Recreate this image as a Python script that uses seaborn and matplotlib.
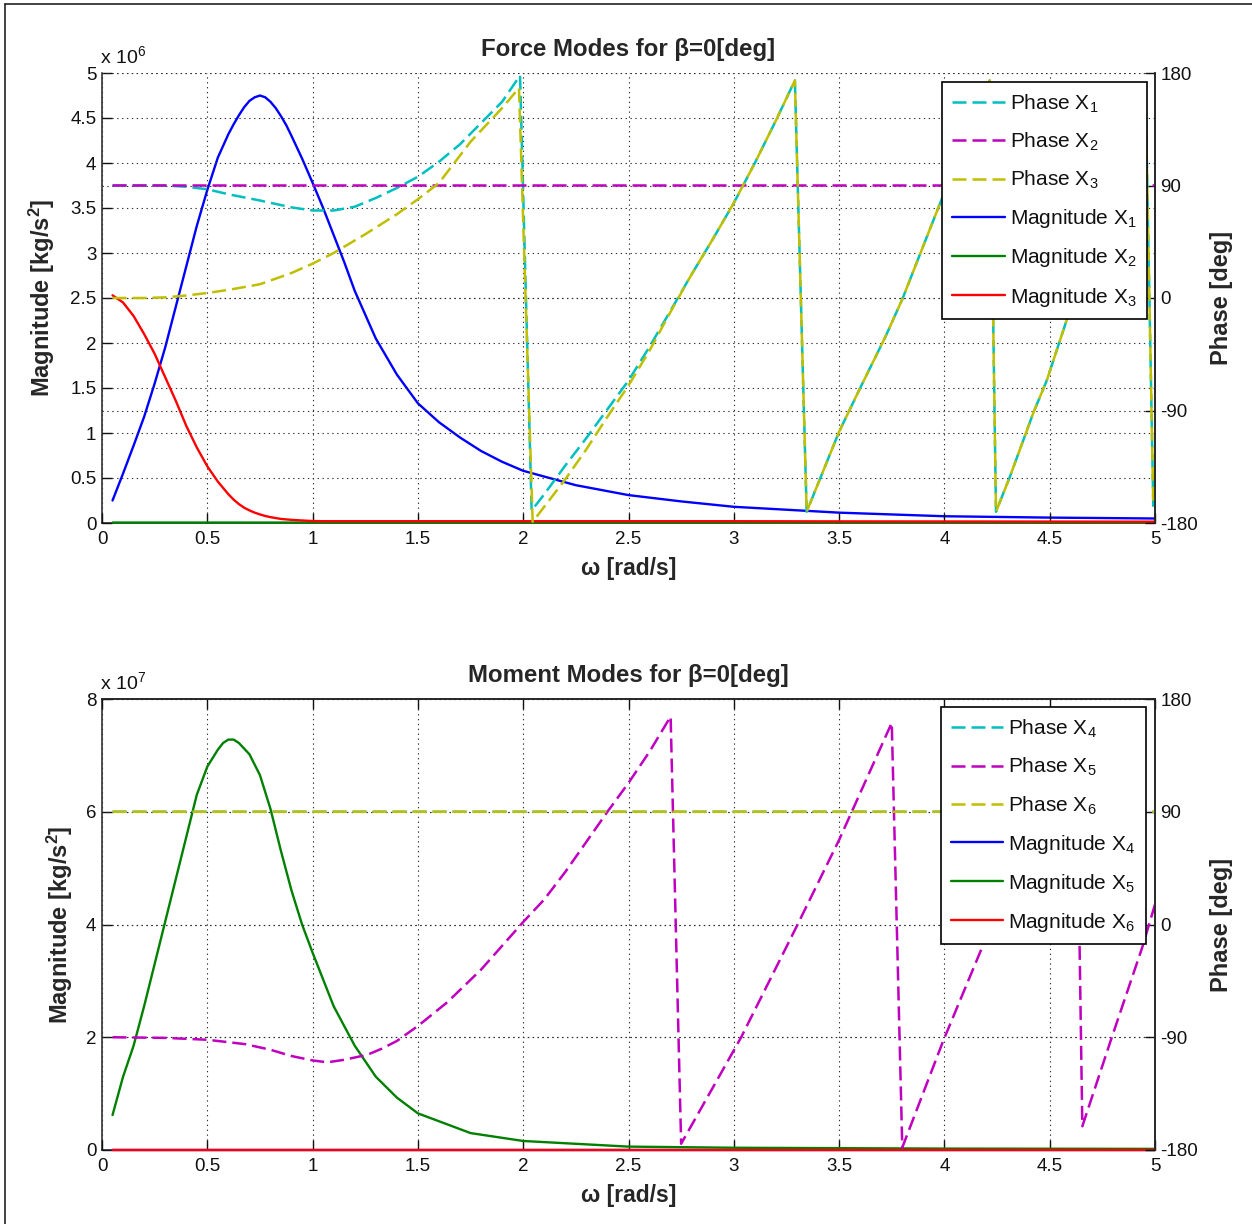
import numpy as np
import pandas as pd
import matplotlib
matplotlib.use("Agg")
import matplotlib.pyplot as plt
from matplotlib.lines import Line2D
from matplotlib.ticker import FixedLocator, FuncFormatter
import seaborn as sns

# ---------------- data ----------------
# Force modes: magnitudes in units of 1e6 kg/s^2
omega_force_mag = [0.05, 0.1, 0.15, 0.2, 0.25, 0.3, 0.35, 0.4, 0.45, 0.5, 0.55, 0.6, 0.625, 0.65,
                   0.675, 0.7, 0.725, 0.75, 0.775, 0.8, 0.825, 0.85, 0.875, 0.9, 0.95, 1.0, 1.05,
                   1.1, 1.15, 1.2, 1.3, 1.4, 1.5, 1.6, 1.7, 1.8, 1.9, 2.0, 2.25, 2.5, 2.75, 3.0,
                   3.5, 4.0, 4.5, 5.0]
force_mag_x1 = [0.25, 0.55, 0.86, 1.18, 1.55, 1.95, 2.4, 2.85, 3.3, 3.7, 4.06, 4.32, 4.43, 4.53,
                4.62, 4.69, 4.73, 4.75, 4.73, 4.68, 4.61, 4.52, 4.42, 4.3, 4.05, 3.78, 3.5,
                3.2, 2.9, 2.58, 2.05, 1.65, 1.33, 1.12, 0.95, 0.8, 0.68, 0.58, 0.42, 0.31, 0.24, 0.18,
                0.115, 0.075, 0.06, 0.05]
force_mag_x3 = [2.53, 2.45, 2.3, 2.1, 1.88, 1.62, 1.36, 1.08, 0.84, 0.63, 0.46, 0.32, 0.26, 0.21,
                0.17, 0.14, 0.115, 0.095, 0.078, 0.065, 0.055, 0.045, 0.04, 0.035, 0.028, 0.022, 0.02,
                0.02, 0.02, 0.02, 0.02, 0.02, 0.02, 0.02, 0.02, 0.02, 0.02, 0.02, 0.02, 0.02, 0.02,
                0.02, 0.018, 0.017, 0.016, 0.015]
omega_force_x2 = [0.05, 5.0]
force_mag_x2 = [0.005, 0.005]

# Force modes: phases in degrees
omega_phase_x1 = [0.05, 0.2, 0.3, 0.4, 0.5, 0.6, 0.75, 0.9, 1.0, 1.1, 1.2, 1.3, 1.4, 1.5, 1.6,
                  1.7, 1.8, 1.9, 1.985, 2.04, 2.1, 2.2, 2.3, 2.4, 2.5, 2.6, 2.7, 2.8, 2.9, 3.0,
                  3.1, 3.2, 3.29, 3.346, 3.5, 3.6, 3.72, 3.8, 3.98, 4.1, 4.215, 4.245, 4.311,
                  4.422, 4.486, 4.58, 4.7, 4.8, 4.9, 4.955, 4.992]
force_phase_x1 = [90, 90, 90, 89, 87, 83, 78, 72.5, 70, 70, 73, 80, 88, 97, 109,
                  123, 140, 157, 178, -170, -157, -134, -112, -89, -66, -39, -10, 19, 47, 76,
                  108, 142, 174, -171, -107, -72, -31, -1, 76, 126, 174, -171, -143,
                  -92, -66, -18, 40, 89, 138, 165, -167]
omega_phase_x3 = [0.05, 0.2, 0.3, 0.4, 0.5, 0.6, 0.75, 0.9, 1.0, 1.1, 1.25, 1.4, 1.5, 1.6,
                  1.75, 1.8, 1.9, 1.98, 2.045, 2.1, 2.2, 2.3, 2.4, 2.5, 2.6, 2.7, 2.8, 2.9, 3.0,
                  3.1, 3.2, 3.29, 3.346, 3.5, 3.6, 3.72, 3.8, 3.98, 4.1, 4.215, 4.245, 4.311,
                  4.422, 4.486, 4.58, 4.7, 4.8, 4.9, 4.955, 4.992]
force_phase_x3 = [0, 0, 0.5, 2, 4, 6.5, 11, 20, 27.5, 36, 51, 67, 79, 92,
                  125, 134, 152, 168, -179, -167, -145, -121, -95, -70, -42, -11, 19, 47, 76,
                  108, 142, 174, -171, -107, -72, -31, -1, 76, 126, 174, -171, -143,
                  -92, -66, -18, 40, 89, 138, 165, -167]
omega_phase_x2 = [0.05, 5.0]
force_phase_x2 = [90, 90]

# Moment modes: magnitudes in units of 1e7 kg/s^2
omega_moment_mag = [0.05, 0.1, 0.15, 0.2, 0.25, 0.3, 0.35, 0.4, 0.45, 0.5, 0.55, 0.575, 0.6, 0.625,
                    0.65, 0.7, 0.75, 0.8, 0.85, 0.9, 0.95, 1.0, 1.1, 1.2, 1.3, 1.4, 1.5, 1.75,
                    2.0, 2.5, 3.0, 4.0, 5.0]
moment_mag_x5 = [0.62, 1.3, 1.85, 2.55, 3.3, 4.05, 4.8, 5.55, 6.3, 6.8, 7.1, 7.22, 7.28, 7.28,
                 7.22, 7.02, 6.65, 6.05, 5.3, 4.6, 4.0, 3.5, 2.55, 1.85, 1.3, 0.93, 0.65, 0.3,
                 0.16, 0.06, 0.04, 0.025, 0.02]
omega_moment_x46 = [0.05, 5.0]
moment_mag_x4 = [0.0, 0.0]
moment_mag_x6 = [0.0, 0.0]

# Moment modes: phases in degrees
omega_phase_x5 = [0.05, 0.3, 0.5, 0.68, 0.8, 0.9, 1.0, 1.07, 1.15, 1.26, 1.33, 1.4, 1.5, 1.64,
                  1.8, 2.0, 2.1, 2.2, 2.3, 2.4, 2.5, 2.6, 2.7, 2.75, 3.0, 3.035, 3.3, 3.5, 3.615,
                  3.75, 3.8, 3.994, 4.186, 4.4, 4.5, 4.625, 4.655, 4.795, 4.939, 5.0]
moment_phase_x5 = [-90, -90.5, -92, -95.5, -100, -105, -108.5, -110, -108, -104, -99, -93, -81,
                   -62, -36, 2, 20, 42, 66, 90, 113, 138, 166, -175, -100.5, -90, -1, 67.5, 110.5,
                   161, -178, -93, -15.5, 75, 117, 168, -161, -90, -18.5, 16]
omega_phase_x46 = [0.05, 5.0]
moment_phase_x4 = [90, 90]
moment_phase_x6 = [90, 90]

omega_ticks = [0, 0.5, 1, 1.5, 2, 2.5, 3, 3.5, 4, 4.5, 5]
force_mag_ticks = [0, 0.5, 1, 1.5, 2, 2.5, 3, 3.5, 4, 4.5, 5]
moment_mag_ticks = [0, 2, 4, 6, 8]
phase_ticks = [-180, -90, 0, 90, 180]

# ---------------- style ----------------
sns.set_style("white")
plt.rcParams['font.family'] = ['Liberation Sans', 'DejaVu Sans']
plt.rcParams['mathtext.fontset'] = 'custom'
plt.rcParams['mathtext.rm'] = 'Liberation Sans'
plt.rcParams['mathtext.it'] = 'Liberation Sans:italic'
plt.rcParams['mathtext.bf'] = 'Liberation Sans:bold'

C_CYAN = '#00BFBF'
C_MAG = '#BF00BF'
C_YEL = '#BFBF00'
C_BLUE = '#0000FF'
C_GREEN = '#008000'
C_RED = '#FF0000'
DASH = (0, (5.6, 2.4))
LW_SOLID = 1.7
LW_DASH = 1.8
TICK_FS = 13.5
LEG_FS = 15
LABEL_FS = 16.5
TITLE_FS = 17.3
GRID_KW = dict(color='#303030', linestyle=(0, (1.2, 3.2)), linewidth=0.8)

W, H = 1252, 1224
fig = plt.figure(figsize=(W / 100, H / 100), dpi=100)
fig.patch.set_facecolor('white')

# figure frame (top and left edges)
fig.add_artist(Line2D([5 / W, 1.0], [1 - 4 / H, 1 - 4 / H], transform=fig.transFigure,
                      color='#222222', lw=1.2))
fig.add_artist(Line2D([5 / W, 5 / W], [0, 1 - 4 / H], transform=fig.transFigure,
                      color='#222222', lw=1.2))

ax_left, ax_w = 102 / W, 1053 / W
axA = fig.add_axes([ax_left, 1 - 523 / H, ax_w, 450 / H])
axB = fig.add_axes([ax_left, 1 - 1150 / H, ax_w, 451 / H])


def line(ax, x, y, color, ls, lw, label, on_top=False):
    sns.lineplot(x=x, y=y, ax=ax, color=color, linestyle=ls, linewidth=lw,
                 estimator=None, sort=False, legend=False)
    ln = ax.lines[-1]
    ln.set_label(label)
    ln.set_snap(False)
    if on_top:
        ln.set_zorder(3)
        ln.set_clip_on(False)
    return ln


def setup(ax, ax2, mag_ticks, mag_max, exponent, title, top_spine):
    ax.set_xlim(0, 5)
    ax.set_ylim(0, mag_max)
    ax2.set_ylim(-180, 180)
    ax.xaxis.set_major_locator(FixedLocator(omega_ticks))
    ax.yaxis.set_major_locator(FixedLocator(mag_ticks))
    ax2.yaxis.set_major_locator(FixedLocator(phase_ticks))
    fmt = FuncFormatter(lambda v, p: f"{v:g}")
    ax.xaxis.set_major_formatter(fmt)
    ax.yaxis.set_major_formatter(fmt)
    ax2.yaxis.set_major_formatter(fmt)
    ax.grid(True, **GRID_KW)
    ax2.yaxis.grid(True, **GRID_KW)
    ax2.xaxis.grid(False)
    ax.set_axisbelow(False)
    ax.tick_params(axis='both', direction='in', length=7, width=1, labelsize=TICK_FS,
                   colors='#111111', pad=4, top=top_spine, right=False, left=True, bottom=True)
    ax.tick_params(axis='x', pad=6)
    ax2.tick_params(axis='y', direction='in', length=7, width=1, labelsize=TICK_FS,
                    colors='#111111', pad=4, right=True, left=False)
    for a in (ax, ax2):
        for s in a.spines.values():
            s.set_color('#222222')
            s.set_linewidth(1.1)
        a.spines['top'].set_visible(top_spine)
    ax2.spines['bottom'].set_visible(False)
    ax2.spines['left'].set_visible(False)
    ax.set_xlabel('ω [rad/s]', fontsize=LABEL_FS, fontweight='bold')
    ax.xaxis.set_label_coords(0.5, -0.075)
    ax.set_ylabel('Magnitude [kg/s$^\\mathbf{2}$]', fontsize=LABEL_FS + 0.5, fontweight='bold')
    ax2.set_ylabel('Phase [deg]', fontsize=LABEL_FS + 0.5, fontweight='bold')
    ax2.yaxis.set_label_coords(1.052, 0.5)
    ax.set_title(title, fontsize=TITLE_FS, fontweight='bold', pad=12)
    ax.text(-0.002, 1 + 10 / 450, 'x 10$^{%d}$' % exponent, transform=ax.transAxes,
            ha='left', va='baseline', fontsize=TICK_FS + 0.5, color='#111111')


# ---------------- Force modes ----------------
axA2 = axA.twinx()
hA = []
hA.append(line(axA2, omega_phase_x1, force_phase_x1, C_CYAN, DASH, LW_DASH, 'Phase X$_1$'))
hA.append(line(axA2, omega_phase_x2, force_phase_x2, C_MAG, DASH, LW_DASH, 'Phase X$_2$'))
hA.append(line(axA2, omega_phase_x3, force_phase_x3, C_YEL, DASH, LW_DASH, 'Phase X$_3$'))
hA.append(line(axA, omega_force_mag, force_mag_x1, C_BLUE, '-', LW_SOLID, 'Magnitude X$_1$'))
hA.append(line(axA, omega_force_x2, force_mag_x2, C_GREEN, '-', LW_SOLID, 'Magnitude X$_2$', True))
hA.append(line(axA, omega_force_mag, force_mag_x3, C_RED, '-', LW_SOLID, 'Magnitude X$_3$', True))
setup(axA, axA2, force_mag_ticks, 5, 6, 'Force Modes for β=0[deg]', False)
axA.yaxis.set_label_coords(-0.043, 0.5)

# ---------------- Moment modes ----------------
axB2 = axB.twinx()
hB = []
hB.append(line(axB2, omega_phase_x46, moment_phase_x4, C_CYAN, DASH, LW_DASH, 'Phase X$_4$'))
hB.append(line(axB2, omega_phase_x5, moment_phase_x5, C_MAG, DASH, LW_DASH, 'Phase X$_5$'))
hB.append(line(axB2, omega_phase_x46, moment_phase_x6, C_YEL, DASH, LW_DASH, 'Phase X$_6$'))
hB.append(line(axB, omega_moment_x46, moment_mag_x4, C_BLUE, '-', LW_SOLID, 'Magnitude X$_4$', True))
hB.append(line(axB, omega_moment_mag, moment_mag_x5, C_GREEN, '-', LW_SOLID, 'Magnitude X$_5$', True))
hB.append(line(axB, omega_moment_x46, moment_mag_x6, C_RED, '-', LW_SOLID, 'Magnitude X$_6$', True))
setup(axB, axB2, moment_mag_ticks, 8, 7, 'Moment Modes for β=0[deg]', True)
axB.yaxis.set_label_coords(-0.026, 0.5)

leg_kw = dict(loc='upper right', borderaxespad=0, fontsize=LEG_FS, frameon=True,
              fancybox=False, framealpha=1, edgecolor='black', handlelength=2.5,
              handletextpad=0.25, labelspacing=0.77, borderpad=0.5)
legA = axA2.legend(hA, [h.get_label() for h in hA], bbox_to_anchor=(0.9924, 0.98), **leg_kw)
legB = axB2.legend(hB, [h.get_label() for h in hB], bbox_to_anchor=(0.9915, 0.982), **leg_kw)
for lg in (legA, legB):
    lg.get_frame().set_linewidth(1.2)
    lg.set_zorder(10)
    for t in lg.get_texts():
        t.set_color('#111111')

fig.savefig('out.png', dpi=100, facecolor='white')
